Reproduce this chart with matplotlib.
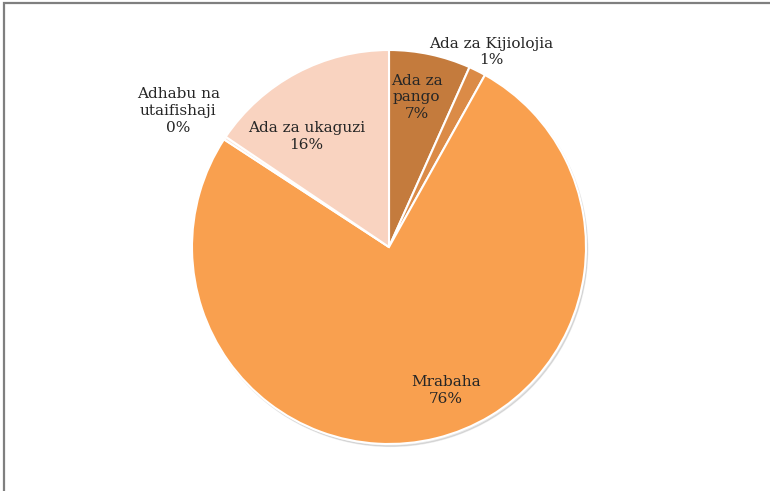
import matplotlib.pyplot as plt
from matplotlib.patches import Rectangle, Circle

categories = ['Ada za pango', 'Ada za Kijiolojia', 'Mrabaha',
              'Adhabu na utaifishaji', 'Ada za ukaguzi']
shares = [6.7, 1.4, 76.1, 0.25, 15.55]
pct_labels = ['7%', '1%', '76%', '0%', '16%']
label_text = ['Ada za\npango', 'Ada za Kijiolojia', 'Mrabaha',
              'Adhabu na\nutaifishaji', 'Ada za ukaguzi']
colors = ['#C47B3D', '#DB8B47', '#F9A04F', '#FBE3D6', '#F9D3C0']

# label placement (radius units, x right / y up)
label_pos = [(0.14, 0.76), (0.52, 0.99), (0.29, -0.73), (-1.07, 0.69), (-0.42, 0.56)]

plt.rcParams['font.family'] = ['DejaVu Serif']

fig = plt.figure(figsize=(7.7, 4.91), dpi=100)
R = 197
cx, cy = 389, 491 - 247
ax = fig.add_axes([(cx - R) / 770, (cy - R) / 491, 2 * R / 770, 2 * R / 491])

# soft shadow
ax.add_patch(Circle((0.008, -0.012), 1.0, color='#000000', alpha=0.10,
                    zorder=0, clip_on=False))
ax.pie(shares, colors=colors, startangle=90, counterclock=False, radius=1.0,
       wedgeprops=dict(edgecolor='white', linewidth=1.5))

for name, pct, (x, y) in zip(label_text, pct_labels, label_pos):
    ax.text(x, y, name + '\n' + pct, ha='center', va='center', fontsize=11,
            color='#262626', linespacing=1.25)

ax.set_xlim(-1, 1)
ax.set_ylim(-1, 1)
ax.set_aspect('equal')
ax.axis('off')

# chart frame
fig.patches.append(Rectangle((4 / 770, -0.05), 1.1, 0.05 + (491 - 3) / 491,
                             transform=fig.transFigure, fill=False,
                             edgecolor='#7F7F7F', linewidth=1.6))

fig.savefig('out.png', dpi=100)
